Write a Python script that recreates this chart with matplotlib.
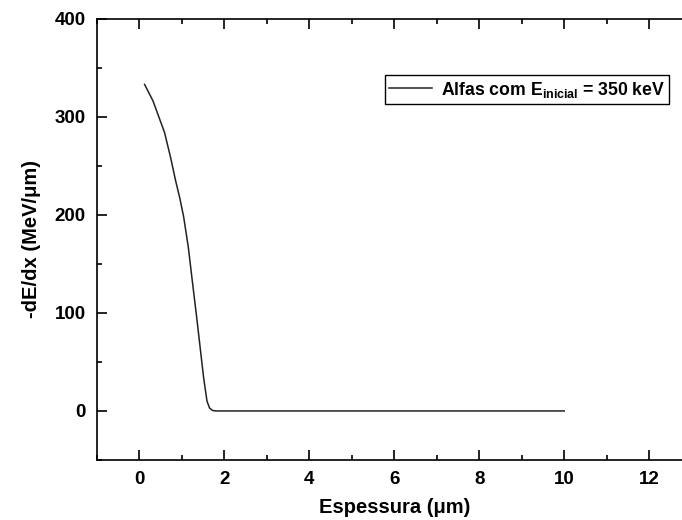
import matplotlib
matplotlib.use("Agg")
import matplotlib.pyplot as plt
from matplotlib.ticker import MultipleLocator

plt.rcParams['font.family'] = ['Liberation Sans', 'DejaVu Sans']
plt.rcParams['mathtext.fontset'] = 'custom'
plt.rcParams['mathtext.rm'] = 'Liberation Sans:bold'
plt.rcParams['mathtext.bf'] = 'Liberation Sans:bold'

# espessura (um) e -dE/dx (MeV/um)
espessura = [0.12, 0.32, 0.59, 0.73, 0.85, 0.95, 1.04, 1.15, 1.24, 1.34,
             1.42, 1.51, 1.59, 1.65, 1.72, 1.80, 4.0, 6.0, 8.0, 10.0]
dedx = [333, 316, 284, 259, 235, 217, 198, 167, 134, 98,
        68, 34, 10, 3, 0.5, 0, 0, 0, 0, 0]

rotulo = r"Alfas com E$_{\mathbf{inicial}}$ = 350 keV"

fig = plt.figure(figsize=(6.82, 5.2), dpi=100)
ax = fig.add_axes([0.1422, 0.1154, 0.872, 0.8487])

ax.plot(espessura, dedx, color="#222222", lw=1.1, label=rotulo)

ax.set_xlim(-1, 13)
ax.set_ylim(-50, 400)
ax.xaxis.set_major_locator(MultipleLocator(2))
ax.xaxis.set_minor_locator(MultipleLocator(1))
ax.yaxis.set_major_locator(MultipleLocator(100))
ax.yaxis.set_minor_locator(MultipleLocator(50))
ax.tick_params(which="both", direction="in", top=True, right=True, width=1.2)
ax.tick_params(which="major", length=7, labelsize=13.5, pad=8)
ax.tick_params(which="minor", length=3.5)
for lbl in ax.get_xticklabels() + ax.get_yticklabels():
    lbl.set_fontweight("bold")
for s in ax.spines.values():
    s.set_linewidth(1.2)

ax.set_xlabel("Espessura (\u03bcm)", fontsize=14.5, fontweight="bold", labelpad=7)
ax.set_ylabel("-dE/dx (MeV/\u03bcm)", fontsize=14.5, fontweight="bold", labelpad=10)

leg = ax.legend(loc="upper right", bbox_to_anchor=(0.962, 0.872), fancybox=False,
                edgecolor="black", prop={"weight": "bold", "size": 12.7},
                handlelength=2.4, handletextpad=0.5, borderpad=0.25,
                borderaxespad=0, framealpha=1)
leg.get_frame().set_linewidth(1.0)

fig.savefig("out.png", dpi=100)
